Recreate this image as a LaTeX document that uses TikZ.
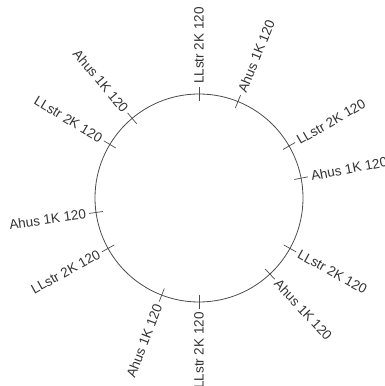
\documentclass[tikz,border=0pt]{standalone}
\usepackage{fontspec}
\setmainfont{Liberation Sans}
\usetikzlibrary{positioning}

\begin{document}
\begin{tikzpicture}[x=1pt,y=1pt,
    lblr/.style={anchor=west,inner sep=0pt,text=black!80,font=\fontsize{13.5}{16}\selectfont},
    lbll/.style={anchor=east,inner sep=0pt,text=black!80,font=\fontsize{13.5}{16}\selectfont},
    tick/.style={gray!60!black,line width=0.7pt}]
  \clip (0,0) rectangle (384,386);
  \useasboundingbox (0,0) rectangle (384,386);
  \begin{scope}[shift={(199,188)}]
  \draw[gray!60!black,line width=0.8pt] (0,0) circle (104);
  % ticks on the ring
  \draw[tick] (90:97) -- (90:111);
  \draw[tick] (68:97) -- (68:111);
  \draw[tick] (30:97) -- (30:111);
  \draw[tick] (11:97) -- (11:111);
  \draw[tick] (-29:97) -- (-29:111);
  \draw[tick] (-47:97) -- (-47:111);
  \draw[tick] (-90:97) -- (-90:111);
  \draw[tick] (-111:97) -- (-111:111);
  \draw[tick] (209:97) -- (209:111);
  \draw[tick] (188:97) -- (188:111);
  \draw[tick] (149:97) -- (149:111);
  \draw[tick] (130:97) -- (130:111);
  % labels
  \node[lblr,rotate=90] (l1) at (90:114) {LLstr 2K 120};
  \node[lblr,rotate=68] (a1) at (68:114) {Ahus 1K 120};
  \node[lblr,rotate=30] (l2) at (30:114) {LLstr 2K 120};
  \node[lblr,rotate=11] (a2) at (11:114) {Ahus 1K 120};
  \node[lblr,rotate=-29] (l3) at (-29:114) {LLstr 2K 120};
  \node[lblr,rotate=-47] (a3) at (-47:114) {Ahus 1K 120};
  \node[lbll,rotate=90] (l4) at (-90:114) {LLstr 2K 120};
  \node[lbll,rotate=69] (a4) at (-111:114) {Ahus 1K 120};
  \node[lbll,rotate=29] (l5) at (209:114) {LLstr 2K 120};
  \node[lbll,rotate=8] (a5) at (188:114) {Ahus 1K 120};
  \node[lbll,rotate=-31] (l6) at (149:114) {LLstr 2K 120};
  \node[lbll,rotate=-50] (a6) at (130:114) {Ahus 1K 120};
  \end{scope}
\end{tikzpicture}
\end{document}
